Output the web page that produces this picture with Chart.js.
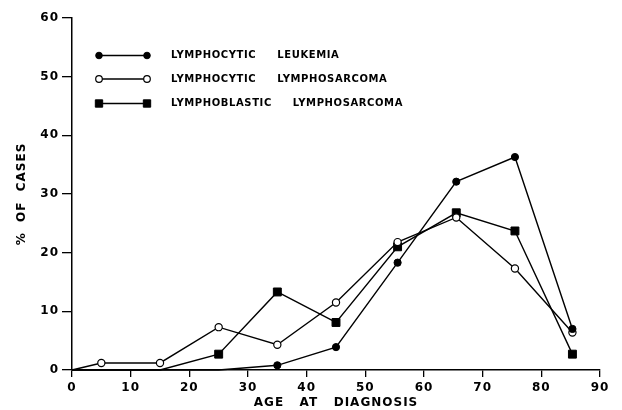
<!DOCTYPE html>
<html>
<head>
<meta charset="utf-8">
<script src="https://cdn.jsdelivr.net/npm/chart.js@4"></script>
<style>
  html, body { margin: 0; padding: 0; background: #fff; }
  #wrap { width: 622px; height: 410px; }
</style>
</head>
<body>
<div id="wrap"><canvas id="ctx"></canvas></div>
<script>
  // age at diagnosis (decade midpoints as plotted)
  const ages = [0, 5, 15, 25, 35, 45, 55.5, 65.5, 75.5, 85.3];

  // % of cases per series
  const lymphocyticLeukemia      = [0, 0, 0, 0, 0.8, 3.9, 18.3, 32.1, 36.3, 7.0];
  const lymphocyticLymphosarcoma = [0, 1.2, 1.2, 7.3, 4.3, 11.5, 21.8, 26.0, 17.3, 6.4];
  const lymphoblasticLymphosarcoma = [0, 0, 0, 2.7, 13.3, 8.1, 21.0, 26.8, 23.7, 2.7];

  const seriesLabels = ['LYMPHOCYTIC LEUKEMIA', 'LYMPHOCYTIC LYMPHOSARCOMA', 'LYMPHOBLASTIC LYMPHOSARCOMA'];
  const xTicks = [0, 10, 20, 30, 40, 50, 60, 70, 80, 90];
  const yTicks = [0, 10, 20, 30, 40, 50, 60];

  const FONT = '"DejaVu Sans", sans-serif';

  function toPoints(vals) {
    return vals.map((v, i) => ({ x: ages[i], y: v }));
  }
  // hide markers where the value is zero (they sit on the axis)
  function radiusFor(vals, r) {
    return vals.map(v => v === 0 ? 0 : r);
  }

  // spaced-out lettering like the original
  const spacing = {
    id: 'spacing',
    beforeLayout(chart) { chart.ctx.letterSpacing = '1px'; },
    beforeDraw(chart) { chart.ctx.letterSpacing = '1px'; }
  };

  // legend drawn inside the plot: line with a marker at each end
  const innerLegend = {
    id: 'innerLegend',
    afterDatasetsDraw(chart) {
      const ctx = chart.ctx;
      const rows = [55.5, 79, 103.5];
      ctx.save();
      ctx.letterSpacing = '0.6px';
      chart.data.datasets.forEach((ds, i) => {
        const y = rows[i];
        ctx.strokeStyle = '#000';
        ctx.lineWidth = 1.5;
        ctx.beginPath();
        ctx.moveTo(99, y);
        ctx.lineTo(147, y);
        ctx.stroke();
        [99, 147].forEach(x => {
          ctx.fillStyle = ds.pointBackgroundColor;
          ctx.strokeStyle = '#000';
          ctx.lineWidth = ds.pointBorderWidth;
          Chart.helpers.drawPoint(ctx, {
            pointStyle: ds.pointStyle,
            radius: ds.pointStyle === 'rect' ? 5.2 : 3.3,
            borderWidth: ds.pointBorderWidth,
            rotation: 0
          }, x, y);
        });
        ctx.fillStyle = '#000';
        ctx.font = 'bold 10px ' + FONT;
        ctx.textBaseline = 'middle';
        ctx.textAlign = 'left';
        let x = 171;
        ds.label.split(' ').forEach(w => {
          ctx.fillText(w, x, y);
          x += ctx.measureText(w).width + 21;
        });
      });
      ctx.restore();
    }
  };

  const baseLine = {
    borderColor: '#000',
    borderWidth: 1.4,
    pointBorderColor: '#000',
    tension: 0,
    clip: false
  };

  const config = {
    type: 'line',
    data: {
      datasets: [
        Object.assign({}, baseLine, {
          label: seriesLabels[0],
          data: toPoints(lymphocyticLeukemia),
          pointStyle: 'circle',
          pointRadius: radiusFor(lymphocyticLeukemia, 3.6),
          pointBackgroundColor: '#000',
          pointBorderWidth: 1
        }),
        Object.assign({}, baseLine, {
          label: seriesLabels[1],
          data: toPoints(lymphocyticLymphosarcoma),
          pointStyle: 'circle',
          pointRadius: radiusFor(lymphocyticLymphosarcoma, 3.6),
          pointBackgroundColor: '#fff',
          pointBorderWidth: 1.2
        }),
        Object.assign({}, baseLine, {
          label: seriesLabels[2],
          data: toPoints(lymphoblasticLymphosarcoma),
          pointStyle: 'rect',
          pointRadius: radiusFor(lymphoblasticLymphosarcoma, 5.6),
          pointBackgroundColor: '#000',
          pointBorderWidth: 1
        })
      ]
    },
    options: {
      responsive: true,
      maintainAspectRatio: false,
      animation: false,
      layout: { padding: { left: 0, right: 22, top: 18, bottom: 0 } },
      plugins: {
        legend: { display: false },
        tooltip: { enabled: false }
      },
      scales: {
        x: {
          type: 'linear',
          min: 0,
          max: 90,
          afterFit(scale) { scale.height = 40; },
          afterBuildTicks(scale) { scale.ticks = xTicks.map(v => ({ value: v })); },
          border: { display: true, color: '#000', width: 1.5 },
          grid: { drawOnChartArea: false, drawTicks: true, tickLength: 7, color: '#000', lineWidth: 1.3 },
          ticks: {
            color: '#000',
            padding: 4,
            maxRotation: 0,
            font: { family: FONT, size: 12, weight: 'bold' }
          },
          title: {
            display: true,
            text: 'AGE   AT   DIAGNOSIS',
            color: '#000',
            padding: { top: 0, bottom: 0 },
            font: { family: FONT, size: 12, weight: 'bold' }
          }
        },
        y: {
          type: 'linear',
          min: 0,
          max: 60,
          afterFit(scale) { scale.width = 72; },
          afterBuildTicks(scale) { scale.ticks = yTicks.map(v => ({ value: v })); },
          border: { display: true, color: '#000', width: 1.5 },
          grid: { drawOnChartArea: false, drawTicks: true, tickLength: 10, color: '#000', lineWidth: 1.3 },
          ticks: {
            color: '#000',
            padding: 3,
            font: { family: FONT, size: 12, weight: 'bold' }
          },
          title: {
            display: true,
            text: '%  OF  CASES',
            color: '#000',
            padding: { top: 15, bottom: 0 },
            font: { family: FONT, size: 12, weight: 'bold' }
          }
        }
      }
    },
    plugins: [spacing, innerLegend]
  };

  const myChart = new Chart(document.getElementById('ctx'), config);
</script>
</body>
</html>
